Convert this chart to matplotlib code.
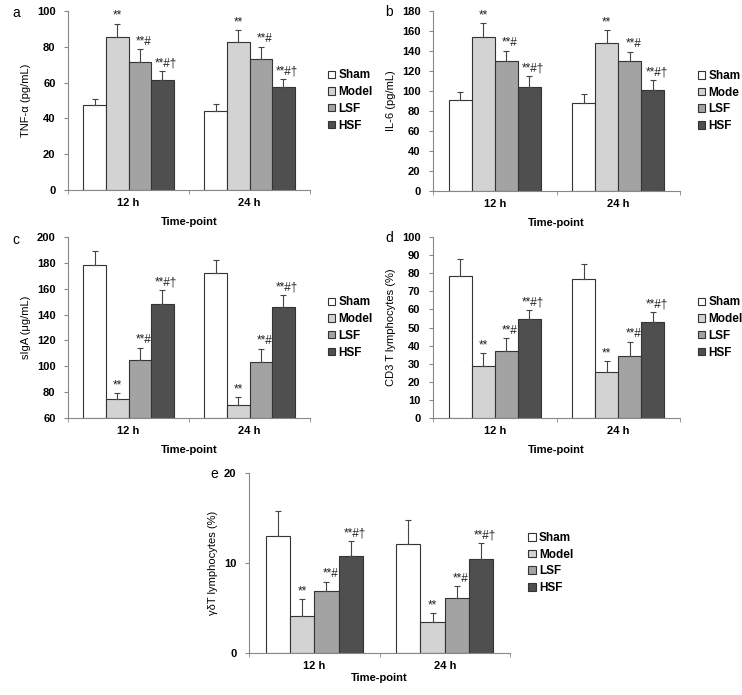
import matplotlib.pyplot as plt
import numpy as np

plt.rcParams['font.family'] = ['Liberation Sans', 'DejaVu Sans']

groups = ["Sham", "Model", "LSF", "HSF"]
colors = ["#ffffff", "#d3d3d3", "#a3a3a3", "#4f4f4f"]
timepoints = ["12 h", "24 h"]

# means [group][timepoint], upper error bar tops
tnf_mean = [[47.5, 44.0], [85.5, 82.5], [71.5, 73.0], [61.5, 57.5]]
tnf_top = [[51.0, 48.0], [93.0, 89.5], [78.5, 80.0], [66.5, 62.0]]
il6_mean = [[91, 88], [154, 148], [130, 130], [104, 101]]
il6_top = [[99, 97], [168, 161], [140, 139], [115, 111]]
siga_mean = [[178, 172], [74.5, 70], [105, 103], [148, 145.5]]
siga_top = [[189, 182], [79.5, 76], [114, 113.5], [159, 155]]
cd3_mean = [[78.5, 77], [29, 25.5], [37, 34.5], [54.5, 53]]
cd3_top = [[88, 85], [36, 31.5], [44, 42], [59.5, 58.5]]
gd_mean = [[13.0, 12.1], [4.1, 3.4], [6.9, 6.1], [10.8, 10.5]]
gd_top = [[15.8, 14.8], [6.0, 4.4], [7.9, 7.4], [12.4, 12.2]]

marks = ["", "**", "**#", "**#\u2020"]

W, H = 742, 695
fig = plt.figure(figsize=(W / 100, H / 100), dpi=100)


def box(x0, y0, x1, y1):
    return [x0 / W, 1 - y1 / H, (x1 - x0) / W, (y1 - y0) / H]


def panel(rect, means, tops, ylim, yticks, ylabel, letter, letter_xy, labels, xpad=6):
    ax = fig.add_axes(rect)
    x = np.arange(2)
    bw = 0.186
    for i in range(4):
        m = np.array(means[i], dtype=float)
        t = np.array(tops[i], dtype=float)
        pos = x + (i - 1.5) * bw
        ax.bar(pos, m - ylim[0], bw, bottom=ylim[0], color=colors[i],
               edgecolor="#333333", linewidth=0.8, label=labels[i], zorder=2)
        ax.errorbar(pos, m, yerr=[np.zeros(2), t - m], fmt="none",
                    ecolor="#444444", elinewidth=0.8, capsize=2.5, capthick=0.8, zorder=3)
        if marks[i]:
            for p, tt in zip(pos, t):
                ax.text(p + (0.03 if i > 1 else 0), tt + (ylim[1] - ylim[0]) * 0.01, marks[i],
                        ha="center", va="bottom", fontsize=8.5, color="#222222")
    ax.set_xlim(-0.5, 1.5)
    ax.set_ylim(*ylim)
    ax.set_yticks(yticks)
    ax.set_xticks([0, 1])
    ax.set_xticklabels(timepoints)
    ax.set_xticks([-0.5, 0.5, 1.5], minor=True)
    ax.tick_params(axis="x", which="major", length=0, pad=6)
    ax.tick_params(axis="x", which="minor", length=3, color="#888888")
    ax.tick_params(axis="y", length=3, color="#888888", pad=6)
    for lab in ax.get_xticklabels() + ax.get_yticklabels():
        lab.set_fontweight("bold")
        lab.set_fontsize(8)
    for s in ["top", "right"]:
        ax.spines[s].set_visible(False)
    for s in ["left", "bottom"]:
        ax.spines[s].set_color("#888888")
        ax.spines[s].set_linewidth(0.8)
    ax.set_ylabel(ylabel, fontsize=8)
    ax.set_xlabel("Time-point", fontsize=8, fontweight="bold", labelpad=xpad)
    leg = ax.legend(loc="center left", bbox_to_anchor=(1.03, 0.5), frameon=False,
                    handlelength=0.6, handleheight=0.6, handletextpad=0.3,
                    labelspacing=0.4, fontsize=8.5)
    for t in leg.get_texts():
        t.set_fontweight("bold")
    fig.text(letter_xy[0] / W, 1 - letter_xy[1] / H, letter, fontsize=10,
             ha="left", va="center")
    return ax


panel(box(68, 11, 310, 190), tnf_mean, tnf_top, (0, 100), range(0, 101, 20),
      "TNF-\u03b1 (pg/mL)", "a", (12, 13), groups)
panel(box(433, 11, 680, 191), il6_mean, il6_top, (0, 180), range(0, 181, 20),
      "IL-6 (pg/mL)", "b", (385, 12), ["Sham", "Mode", "LSF", "HSF"])
panel(box(68, 237, 310, 418), siga_mean, siga_top, (60, 200), range(60, 201, 20),
      "sIgA (\u03bcg/mL)", "c", (12, 240), groups)
panel(box(433, 237, 680, 418), cd3_mean, cd3_top, (0, 100), range(0, 101, 10),
      "CD3 T lymphocytes (%)", "d", (385, 238), groups)
panel(box(249, 473, 510, 653), gd_mean, gd_top, (0, 20), range(0, 21, 10),
      "\u03b3\u03b4T lymphocytes (%)", "e", (210, 474), groups, xpad=1)

fig.savefig("out.png", dpi=100, facecolor="white")
